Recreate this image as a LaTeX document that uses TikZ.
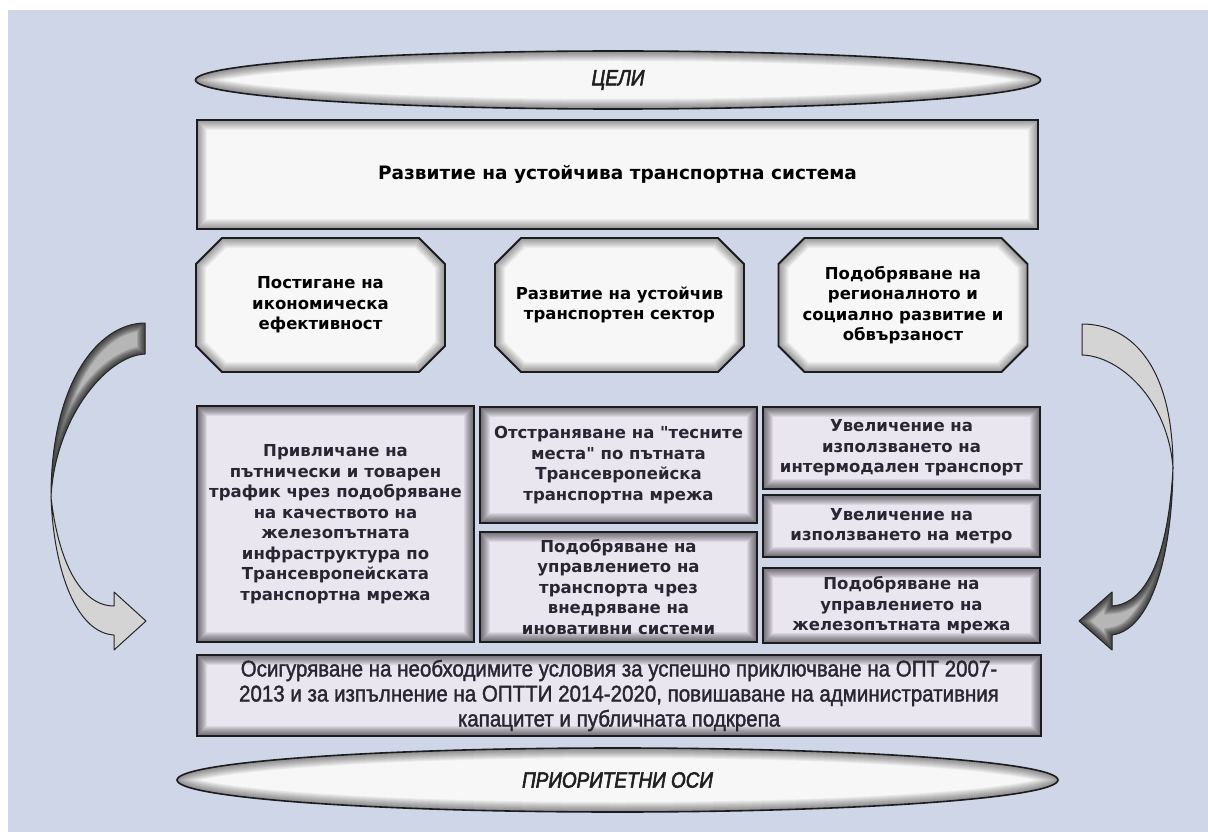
\documentclass[tikz,border=0pt]{standalone}
\usepackage{fontspec}
\setmainfont{DejaVu Sans}
\newfontfamily\vfont{DejaVu Sans}
\newfontfamily\arialf[FakeStretch=0.9, FakeBold=1.6]{Liberation Sans}
\newfontfamily\titlef[FakeStretch=0.86, FakeBold=2.6]{Liberation Sans}
\usetikzlibrary{calc,shapes.geometric}

\definecolor{bgblue}{RGB}{206,214,232}
\definecolor{lightfill}{RGB}{247,247,247}
\definecolor{lavfill}{RGB}{234,230,240}
\definecolor{edgec}{RGB}{28,28,30}
\definecolor{txtc}{RGB}{40,38,50}
\definecolor{arrowlight}{RGB}{212,212,212}
\definecolor{arrowdark}{RGB}{182,182,182}

\tikzset{
  rectglow/.style={path picture={
      \foreach \w in {2,4,...,20}{
        \draw[line width=\w pt, draw=black, draw opacity=#1]
          (path picture bounding box.south west) rectangle (path picture bounding box.north east);}
  }},
  ellglow/.style={path picture={
      \foreach \w in {2,4,...,20}{
        \draw[line width=\w pt, draw=black, draw opacity=#1]
          let \p1=(path picture bounding box.north east), \p2=(path picture bounding box.south west) in
          (path picture bounding box.center) ellipse [x radius={abs(\x1-\x2)/2}, y radius={abs(\y1-\y2)/2}];}
  }},
  ellbox/.style={ellipse, draw=edgec, line width=1.6pt, fill=lightfill, ellglow=0.05, inner sep=0pt,
      font=\titlef\itshape\fontsize{22}{26}\selectfont, text=black!88},
  topbox/.style={rectangle, draw=edgec, line width=1.6pt, fill=lightfill, rectglow=0.045, inner sep=0pt,
      align=center, font=\vfont\bfseries\fontsize{18.5}{22}\selectfont, text=black},
  lavbox/.style={rectangle, draw=edgec, line width=1.8pt, fill=lavfill, rectglow=0.065, inner sep=0pt,
      align=center, font=\vfont\bfseries\fontsize{16.5}{20.5}\selectfont, text=txtc},
  botbox/.style={rectangle, draw=edgec, line width=1.8pt, fill=lavfill, rectglow=0.065, inner sep=0pt,
      align=center, font=\arialf\fontsize{22.8}{25}\selectfont, text=txtc},
  octbox/.style={rectangle, fill=bgblue, inner sep=0pt, minimum width=252pt, minimum height=137pt,
      align=center, font=\vfont\bfseries\fontsize{16.5}{20.5}\selectfont, text=black,
      path picture={
        \fill[lightfill] let \p1=(path picture bounding box.north west), \p2=(path picture bounding box.south east) in
          (\x1+27.5pt,\y1-1.5pt) -- (\x2-27.5pt,\y1-1.5pt) -- (\x2-1.5pt,\y1-27.5pt) -- (\x2-1.5pt,\y2+27.5pt) --
          (\x2-27.5pt,\y2+1.5pt) -- (\x1+27.5pt,\y2+1.5pt) -- (\x1+1.5pt,\y2+27.5pt) -- (\x1+1.5pt,\y1-27.5pt) -- cycle;
        \begin{scope}
          \clip let \p1=(path picture bounding box.north west), \p2=(path picture bounding box.south east) in
            (\x1+27.5pt,\y1-1.5pt) -- (\x2-27.5pt,\y1-1.5pt) -- (\x2-1.5pt,\y1-27.5pt) -- (\x2-1.5pt,\y2+27.5pt) --
            (\x2-27.5pt,\y2+1.5pt) -- (\x1+27.5pt,\y2+1.5pt) -- (\x1+1.5pt,\y2+27.5pt) -- (\x1+1.5pt,\y1-27.5pt) -- cycle;
          \foreach \w in {2,4,...,20}{
            \draw[line width=\w pt, draw=black, draw opacity=0.045]
              let \p1=(path picture bounding box.north west), \p2=(path picture bounding box.south east) in
              (\x1+27.5pt,\y1-1.5pt) -- (\x2-27.5pt,\y1-1.5pt) -- (\x2-1.5pt,\y1-27.5pt) -- (\x2-1.5pt,\y2+27.5pt) --
              (\x2-27.5pt,\y2+1.5pt) -- (\x1+27.5pt,\y2+1.5pt) -- (\x1+1.5pt,\y2+27.5pt) -- (\x1+1.5pt,\y1-27.5pt) -- cycle;}
        \end{scope}
        \draw[edgec, line width=1.8pt, line join=miter]
          let \p1=(path picture bounding box.north west), \p2=(path picture bounding box.south east) in
          (\x1+27.5pt,\y1-1.5pt) -- (\x2-27.5pt,\y1-1.5pt) -- (\x2-1.5pt,\y1-27.5pt) -- (\x2-1.5pt,\y2+27.5pt) --
          (\x2-27.5pt,\y2+1.5pt) -- (\x1+27.5pt,\y2+1.5pt) -- (\x1+1.5pt,\y2+27.5pt) -- (\x1+1.5pt,\y1-27.5pt) -- cycle;
      }},
  arrowedge/.style={draw=black!85, line width=1pt, line join=round},
  arrowlightfill/.style={fill=arrowlight},
}

\def\LUpath{(145,323) .. controls (100,323) and (51,380) .. (51,497) .. controls (55,420) and (105,356) .. (145,354) -- cycle}
\def\LLpath{(51,497) .. controls (54,575) and (78,633) .. (114,635) -- (114,650) -- (146,621) -- (114,592) -- (114,606) .. controls (80,606) and (58,560) .. (51,497) -- cycle}
\def\RUpath{(1082,324) .. controls (1127,324) and (1173,360) .. (1173,468) .. controls (1168,400) and (1120,356) .. (1082,355) -- cycle}
\def\RLpath{(1173,468) .. controls (1172,560) and (1150,630) .. (1112,635) -- (1112,650) -- (1079,621) -- (1112,592) -- (1112,606) .. controls (1145,604) and (1168,560) .. (1173,468) -- cycle}

\begin{document}
\begin{tikzpicture}[x=1pt, y=-1pt]
\useasboundingbox (0,0) rectangle (1208,832);
\fill[white] (0,0) rectangle (1208,832);
\fill[bgblue] (8,10) rectangle (1208,832);

% goals ellipse
\node[ellbox, minimum width=845pt, minimum height=58pt] (goals) at (618,80) {ЦЕЛИ};

% main goal
\node[topbox, minimum width=841pt, minimum height=109pt] (system) at (617.5,174.5)
  {Развитие на устойчива транспортна система};

% specific goals
\node[octbox] (g1) at (320.5,305) {Постигане на\\икономическа\\ефективност};
\node[octbox] (g2) at (619.5,305) {Развитие на устойчив\\транспортен сектор};
\node[octbox] (g3) at (903,305) {Подобряване на\\регионалното и\\социално развитие и\\обвързаност};

% priority boxes
\node[lavbox, minimum width=277pt, minimum height=236pt] (b1) at (335.5,524)
  {Привличане на\\пътнически и товарен\\трафик чрез подобряване\\на качеството на\\железопътната\\инфраструктура по\\Трансевропейската\\транспортна мрежа};
\node[lavbox, minimum width=277pt, minimum height=116pt] (b2) at (618.5,465)
  {Отстраняване на "тесните\\места" по пътната\\Трансевропейска\\транспортна мрежа};
\node[lavbox, minimum width=277pt, minimum height=110pt] (b3) at (618.5,587)
  {Подобряване на\\управлението на\\транспорта чрез\\внедряване на\\иновативни системи};
\node[lavbox, minimum width=277pt, minimum height=82pt] (b4) at (901.5,448)
  {Увеличение на\\използването на\\интермодален транспорт};
\node[lavbox, minimum width=277pt, minimum height=62pt] (b5) at (901.5,526)
  {Увеличение на\\използването на метро};
\node[lavbox, minimum width=277pt, minimum height=75pt] (b6) at (901.5,605.5)
  {Подобряване на\\управлението на\\железопътната мрежа};
\node[botbox, minimum width=844pt, minimum height=81pt] (b7) at (619,695.5)
  {Осигуряване на необходимите условия за успешно приключване на ОПТ 2007-\\2013 и за изпълнение на ОПТТИ 2014-2020, повишаване на административния\\капацитет и публичната подкрепа};

% axes ellipse
\node[ellbox, minimum width=881pt, minimum height=64pt] (axes) at (617.5,780) {ПРИОРИТЕТНИ ОСИ};

% left curved arrow
\begin{scope}
  \clip \LUpath;
  \fill[arrowdark] (40,310) rectangle (160,510);
  \foreach \w in {2,4,...,16}{\draw[line width=\w pt, draw=black, draw opacity=0.11] \LUpath;}
\end{scope}
\draw[arrowedge] \LUpath;
\draw[arrowedge, arrowlightfill] \LLpath;

% right curved arrow
\draw[arrowedge, arrowlightfill] \RUpath;
\begin{scope}
  \clip \RLpath;
  \fill[arrowdark] (1070,460) rectangle (1185,660);
  \foreach \w in {2,4,...,16}{\draw[line width=\w pt, draw=black, draw opacity=0.11] \RLpath;}
\end{scope}
\draw[arrowedge] \RLpath;
\end{tikzpicture}
\end{document}
